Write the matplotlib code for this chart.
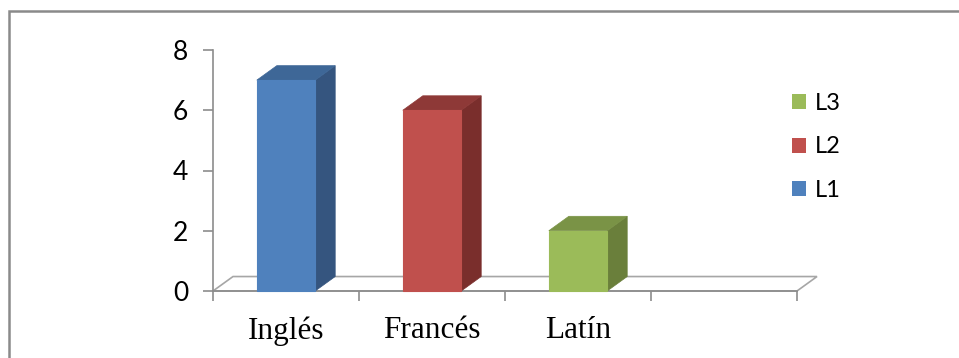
import matplotlib
matplotlib.use('Agg')
import matplotlib.pyplot as plt
from matplotlib.patches import Polygon, Rectangle, Patch

# Datos del gráfico
categorias = ['Inglés', 'Francés', 'Latín', '']
series = ['L1', 'L2', 'L3']
valores = [7, 6, 2]
colores_frente = ['#4F81BD', '#C0504D', '#9BBB59']
colores_lado = ['#35557F', '#7A2E2C', '#6A7F3B']
colores_tapa = ['#3E6797', '#8E3937', '#7A9346']

# Efecto 3D: desplazamiento de profundidad en unidades de datos
prof_x = 0.137
prof_y = 0.48
ancho = 0.40
gris = '#8C8C8C'

fig = plt.figure(figsize=(9.59, 3.58), dpi=100)
ax = fig.add_axes([213 / 959, 67 / 358, 584 / 959, 241 / 358])
n_cat = len(categorias)
ax.set_xlim(0, n_cat)
ax.set_ylim(0, 8)

# Suelo del gráfico
suelo = Polygon([(0, 0), (n_cat, 0), (n_cat + prof_x, prof_y), (prof_x, prof_y)],
                closed=True, facecolor='white', edgecolor='#A6A6A6', lw=1.2,
                clip_on=False, zorder=1)
ax.add_patch(suelo)

# Barras con caras frontal, lateral y superior
for i, v in enumerate(valores):
    c = i + 0.5
    x0, x1 = c - ancho / 2, c + ancho / 2
    frente = Rectangle((x0, 0), ancho, v, facecolor=colores_frente[i],
                       edgecolor=colores_frente[i], lw=0.8, clip_on=False, zorder=3)
    lado = Polygon([(x1, 0), (x1 + prof_x, prof_y), (x1 + prof_x, v + prof_y), (x1, v)],
                   closed=True, facecolor=colores_lado[i], edgecolor=colores_lado[i],
                   lw=0.5, clip_on=False, zorder=3)
    tapa = Polygon([(x0, v), (x1, v), (x1 + prof_x, v + prof_y), (x0 + prof_x, v + prof_y)],
                   closed=True, facecolor=colores_tapa[i], edgecolor=colores_tapa[i],
                   lw=0.5, clip_on=False, zorder=3)
    ax.add_patch(lado)
    ax.add_patch(tapa)
    ax.add_patch(frente)

# Ejes
for lado_spine in ['top', 'right']:
    ax.spines[lado_spine].set_visible(False)
ax.spines['left'].set_color(gris)
ax.spines['bottom'].set_color(gris)
ax.spines['left'].set_linewidth(1.2)
ax.spines['bottom'].set_linewidth(1.2)
ax.patch.set_alpha(0)

ax.set_yticks([0, 2, 4, 6, 8])
ax.tick_params(axis='y', direction='out', length=7, width=1.2, color=gris,
               pad=11, labelsize=19, labelfontfamily='Lato')

ax.set_xticks(range(n_cat + 1))
ax.set_xticklabels([])
ax.set_xticks([i + 0.5 for i in range(n_cat)], minor=True)
ax.set_xticklabels(categorias, minor=True, fontsize=22.5, family='Liberation Serif')
ax.tick_params(axis='x', which='major', direction='out', length=7, width=1.2, color=gris)
ax.tick_params(axis='x', which='minor', length=0, pad=18)

# Leyenda en orden inverso
manejadores = [Patch(facecolor=colores_frente[i], edgecolor='none', label=series[i])
               for i in reversed(range(len(series)))]
ax.legend(handles=manejadores, loc='upper left', bbox_to_anchor=(792 / 959, 1 - 93 / 358),
          bbox_transform=fig.transFigure, frameon=False, prop={'family': 'Lato', 'size': 17},
          handlelength=0.6, handleheight=0.6, handletextpad=0.35, labelspacing=0.95,
          borderaxespad=0, borderpad=0)

# Marco del área del gráfico
marco = Rectangle((9 / 959, -0.5), 2, (358 - 11) / 358 + 0.5, transform=fig.transFigure,
                  facecolor='none', edgecolor='#8A8A8A', lw=1.8, clip_on=False)
fig.add_artist(marco)

fig.savefig('out.png', dpi=100, facecolor='white')
